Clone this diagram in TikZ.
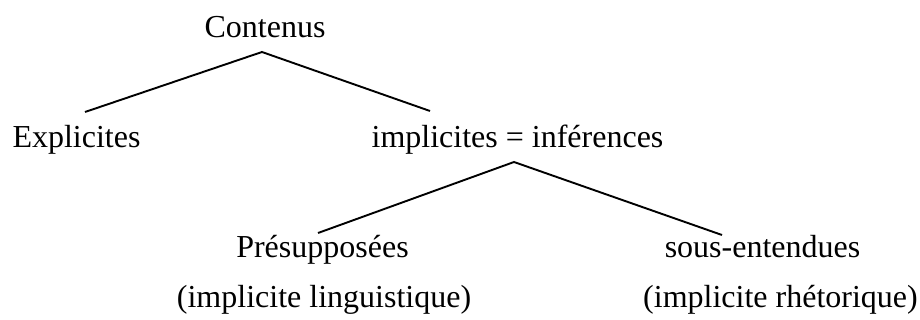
\documentclass[tikz,border=0pt]{standalone}
\usepackage{fontspec}
\setmainfont{Liberation Serif}
\begin{document}
\begin{tikzpicture}[x=1pt,y=-1pt,
  lbl/.style={inner sep=0pt,anchor=base,font=\fontsize{32}{38}\selectfont},
  conn/.style={line width=1.9pt}]
\useasboundingbox (0,0) rectangle (920,320);
\node[lbl] (contenus) at (265,38) {Contenus};
\node[lbl] (explicites) at (76.5,148) {Explicites};
\node[lbl] (implicites) at (517.5,148) {implicites = inférences};
\node[lbl] (presup) at (322.5,258) {Présupposées};
\node[lbl] (sousent) at (762.5,258) {sous-entendues};
\node[lbl] (ling) at (324,307) {(implicite linguistique)};
\node[lbl] (rhet) at (780.5,307) {(implicite rhétorique)};
\draw[conn] ([shift={(8.5,-36)}]explicites.base) -- ([shift={(-3,14)}]contenus.base) -- ([shift={(-87.5,-37)}]implicites.base);
\draw[conn] ([shift={(-4.5,-25)}]presup.base) -- ([shift={(-3.5,14)}]implicites.base) -- ([shift={(-40.5,-23)}]sousent.base);
\end{tikzpicture}
\end{document}
